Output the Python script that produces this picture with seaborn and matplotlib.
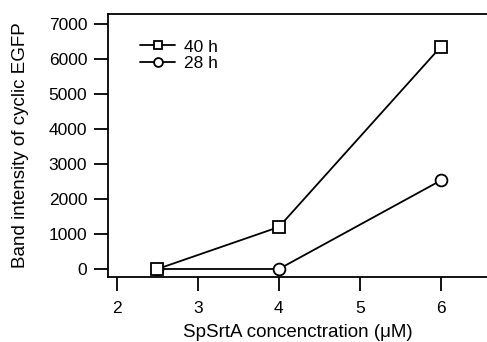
import matplotlib
matplotlib.use("Agg")
import matplotlib.pyplot as plt
import seaborn as sns
import pandas as pd

sns.set_theme(style="white")
plt.rcParams['font.family'] = ['Liberation Sans', 'DejaVu Sans']

conc_40h = [2.5, 4, 6]
band_40h = [0, 1200, 6350]
conc_28h = [2.5, 4, 6]
band_28h = [0, 0, 2530]
series_labels = ["40 h", "28 h"]
xticks = [2, 3, 4, 5, 6]
yticks = [0, 1000, 2000, 3000, 4000, 5000, 6000, 7000]

df40 = pd.DataFrame({"conc": conc_40h, "band": band_40h})
df28 = pd.DataFrame({"conc": conc_28h, "band": band_28h})

fig = plt.figure(figsize=(4.87, 3.42), dpi=100)
ax = fig.add_axes([108/487, 65/342, 1 - 108/487, (277-14)/342])

sns.lineplot(data=df28, x="conc", y="band", ax=ax, color="black", lw=1.3,
             marker="o", markersize=8.5, markerfacecolor="white",
             markeredgecolor="black", markeredgewidth=1.3, label=series_labels[1], zorder=2)
sns.lineplot(data=df40, x="conc", y="band", ax=ax, color="black", lw=1.3,
             marker="s", markersize=8.5, markerfacecolor="white",
             markeredgecolor="black", markeredgewidth=1.3, label=series_labels[0], zorder=3)

ax.set_xlim(1.889, 6.57)
ax.set_ylim(-229, 7286)
ax.set_xticks(xticks)
ax.set_yticks(yticks)
ax.tick_params(axis='both', direction='out', length=10, width=1.3, color='black',
               labelsize=12.5, labelcolor='black', bottom=True, left=True)
ax.tick_params(axis='x', pad=7)
ax.tick_params(axis='y', pad=5)
for s in ['left', 'top', 'bottom']:
    ax.spines[s].set_visible(True)
    ax.spines[s].set_color('black')
    ax.spines[s].set_linewidth(1.3)
ax.spines['right'].set_visible(False)
ax.grid(False)

ax.set_xlabel("SpSrtA concenctration (μM)", fontsize=13.5, color='black', labelpad=6)
ax.set_ylabel("Band intensity of cyclic EGFP", fontsize=13.5, color='black', labelpad=14)

h, l = ax.get_legend_handles_labels()
order = [l.index(series_labels[0]), l.index(series_labels[1])]
leg = ax.legend([h[i] for i in order], [l[i] for i in order], loc='upper left',
                bbox_to_anchor=(0.067, 0.93), frameon=False, fontsize=12.5,
                handlelength=2.0, handletextpad=0.5, labelspacing=0.1,
                markerscale=0.75, borderaxespad=0)
for t in leg.get_texts():
    t.set_color('black')

fig.savefig("out.png", dpi=100)
